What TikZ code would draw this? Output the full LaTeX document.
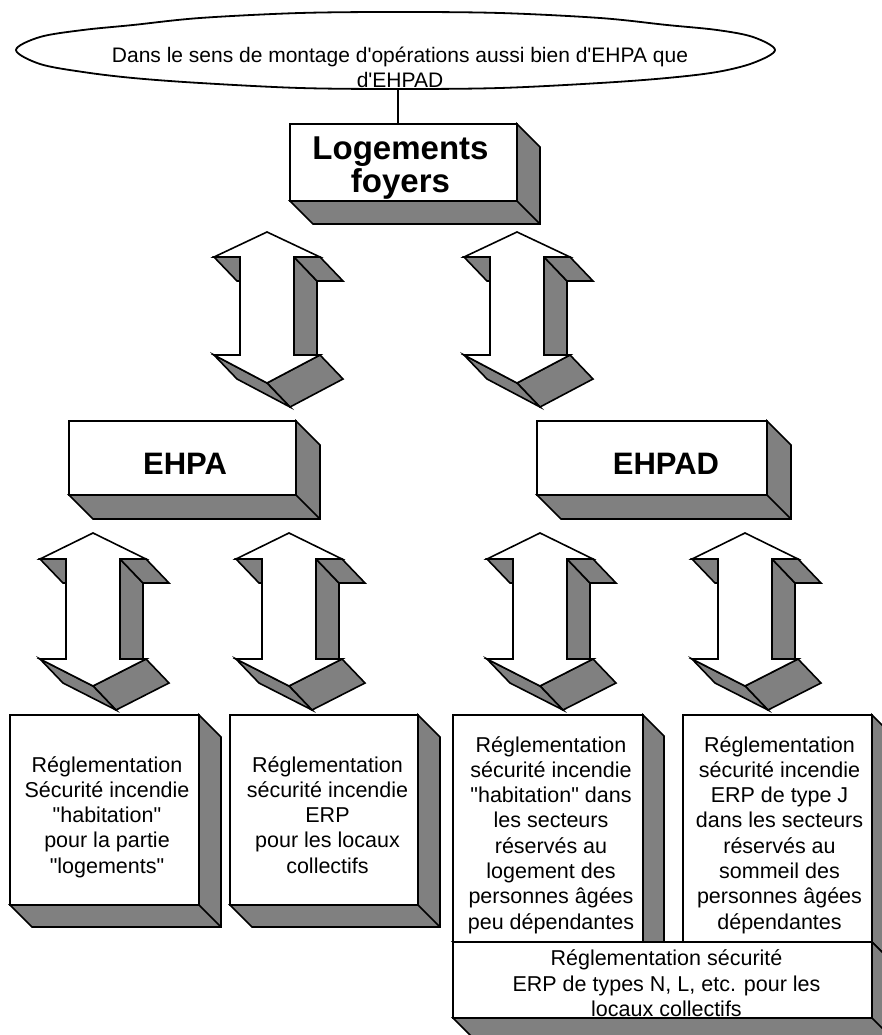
\documentclass[tikz,border=0pt]{standalone}
\usepackage{fontspec}
\newfontfamily\arial{Liberation Sans}
\usetikzlibrary{calc}
\definecolor{shade}{HTML}{808080}
\newcommand{\mylines}[1]{\begin{tabular}[t]{@{}c@{}}#1\end{tabular}}
\def\adx{23}
\def\ady{24}
% 3D shading of a box node: name, dx, dy
\newcommand{\boxshade}[3]{%
  \draw[sideface] (#1.north east) -- ++(#2,#3) -- ($(#1.south east)+(#2,#3)$) -- ($(#1.south west)+(#2,#3)$) -- (#1.south west) -- (#1.south east) -- cycle;
  \draw[outline] (#1.south east) -- ++(#2,#3);
}
% 3D double arrow: name, cx, top y, head height, shaft bottom (rel), bottom tip (rel)
\newcommand{\dblarrow}[6]{%
  \begin{scope}[shift={(#2,#3)}]
    \coordinate (#1) at (0,0);
    \draw[sideface] (27,#4) -- ++(\adx,\ady) -- (27+\adx,#5+\ady) -- (27,#5) -- cycle;
    \draw[sideface] (53,#5) -- (0,#6) -- ++(\adx,\ady) -- (53+\adx,#5+\ady) -- cycle;
    \draw[sideface] (-53,#5) -- (0,#6) -- ++(\adx,\ady) -- (-53+\adx,#5+\ady) -- cycle;
    \draw[sideface] (-53,#4) -- (-27,#4) -- ++(\adx,\ady) -- (-53+\adx,#4+\ady) -- cycle;
    \draw[sideface] (27,#4) -- (53,#4) -- ++(\adx,\ady) -- (27+\adx,#4+\ady) -- cycle;
    \draw[frontface] (0,0) -- (53,#4) -- (27,#4) -- (27,#5) -- (53,#5) -- (0,#6) -- (-53,#5) -- (-27,#5) -- (-27,#4) -- (-53,#4) -- cycle;
  \end{scope}}
\begin{document}
\begin{tikzpicture}[x=1pt,y=-1pt,
  outline/.style={draw=black, line width=1.6pt},
  frontbox/.style={outline, fill=white, rectangle, inner sep=0pt, outer sep=0pt},
  sideface/.style={outline, fill=shade},
  frontface/.style={outline, fill=white},
  bodytext/.style={font=\arial\fontsize{21.5}{25.3}\selectfont, anchor=base, inner sep=0pt},
  titletext/.style={font=\arial\bfseries\fontsize{33}{32}\selectfont, anchor=base, inner sep=0pt},
  headtext/.style={font=\arial\bfseries\fontsize{31}{31}\selectfont, anchor=base, inner sep=0pt},
  connector/.style={draw=black, line width=1.2pt}]
\useasboundingbox (0,0) rectangle (882,1035);
\clip (0,0) rectangle (882,1035);
\fill[white] (0,0) rectangle (882,1035);

% top cloud-like ellipse
\draw[outline, line width=1.8pt] plot[smooth cycle, tension=0.55] coordinates {(16,50) (40,37) (83,30) (133,25) (200,18) (300,13) (400,12) (500,13) (600,18) (667,25) (717,30) (753,37) (775,50) (753,63) (717,72) (667,78) (600,83) (500,88) (400,89) (300,88) (200,83) (133,78) (83,72) (40,64)};
\node[bodytext, font=\arial\fontsize{21}{25}\selectfont] (elltext) at (400,63) {\mylines{Dans le sens de montage d'opérations aussi bien d'EHPA que\\d'EHPAD}};
\coordinate (ellbottom) at (398,89);

% Logements foyers
\node[frontbox, minimum width=227pt, minimum height=77pt] (lf) at (403.5,162.5) {};
\boxshade{lf}{23}{23}
\node[titletext] (lftext) at (400.5,160) {\mylines{Logements\\[-1.5pt]foyers}};
\draw[connector] (ellbottom) -- (ellbottom |- lf.north);

% upper double arrows
\dblarrow{ua1}{267}{232}{25}{123}{151}
\dblarrow{ua2}{517}{232}{25}{123}{151}

% EHPA / EHPAD
\node[frontbox, minimum width=227pt, minimum height=74pt] (ehpa) at (182.5,458) {};
\boxshade{ehpa}{24}{24}
\node[headtext] (ehpatext) at (185,474) {EHPA};
\node[frontbox, minimum width=230pt, minimum height=74pt] (ehpad) at (652,458) {};
\boxshade{ehpad}{24}{24}
\node[headtext] (ehpadtext) at (666,474) {EHPAD};

% lower double arrows
\dblarrow{la1}{93}{533}{26}{126}{153}
\dblarrow{la2}{289}{533}{26}{126}{153}
\dblarrow{la3}{540}{533}{26}{126}{153}
\dblarrow{la4}{745}{533}{26}{126}{153}

% bottom boxes
\node[frontbox, minimum width=189pt, minimum height=190pt] (b1) at (104.5,810) {};
\boxshade{b1}{22}{22}
\node[bodytext] (b1text) at (107,772) {\mylines{Réglementation\\Sécurité incendie\\"habitation"\\pour la partie\\"logements"}};

\node[frontbox, minimum width=188pt, minimum height=190pt] (b2) at (324,810) {};
\boxshade{b2}{22}{22}
\node[bodytext] (b2text) at (327.5,772) {\mylines{Réglementation\\sécurité incendie\\ERP\\pour les locaux\\collectifs}};

\node[frontbox, minimum width=190pt, minimum height=227pt] (b3) at (548,828.5) {};
\boxshade{b3}{21}{21}
\node[frontbox, minimum width=189pt, minimum height=227pt] (b4) at (777.5,828.5) {};
\boxshade{b4}{21}{21}

\node[frontbox, minimum width=419pt, minimum height=76pt] (b5) at (662.5,980) {};
\boxshade{b5}{22}{22}

\node[bodytext] (b3text) at (551,752) {\mylines{Réglementation\\sécurité incendie\\"habitation" dans\\les secteurs\\réservés au\\logement des\\personnes âgées\\peu dépendantes}};
\node[bodytext] (b4text) at (779.5,752) {\mylines{Réglementation\\sécurité incendie\\ERP de type J\\dans les secteurs\\réservés au\\sommeil des\\personnes âgées\\dépendantes}};
\node[bodytext] (b5text) at (666.5,965) {\mylines{Réglementation sécurité\\[1.2pt]ERP de types N, L, etc. pour les\\[-0.5pt]locaux collectifs}};
\end{tikzpicture}
\end{document}
